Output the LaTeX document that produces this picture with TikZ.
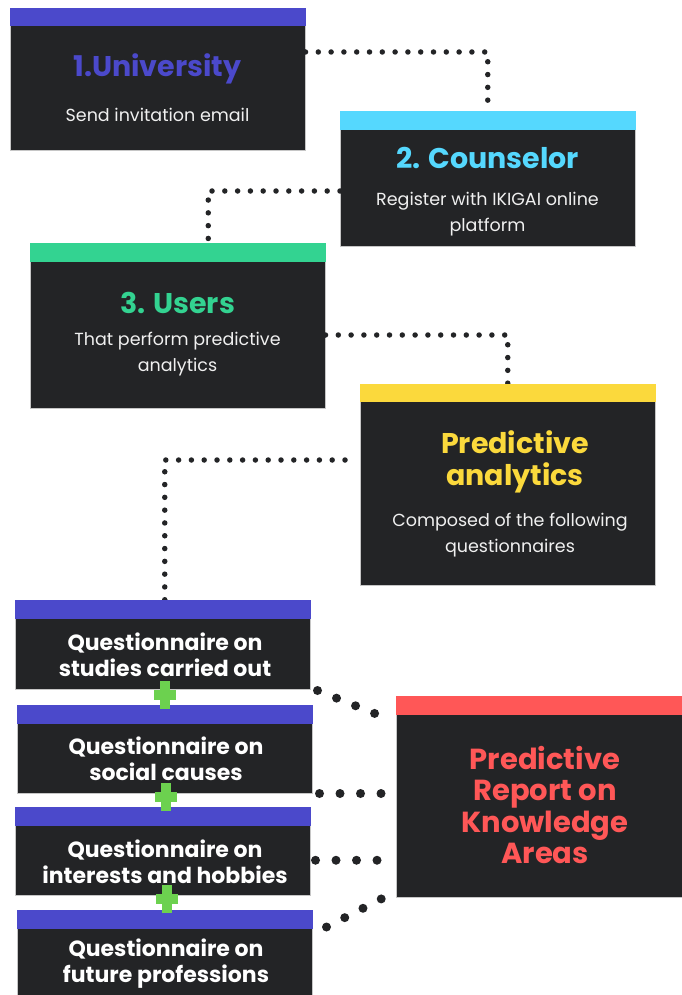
\documentclass[tikz,border=0pt]{standalone}
\usepackage{fontspec}
\setmainfont{Poppins}
\usetikzlibrary{positioning,calc}
\definecolor{cardgray}{HTML}{232426}
\definecolor{uniblue}{HTML}{4B49CB}
\definecolor{counblue}{HTML}{55D8FE}
\definecolor{usergreen}{HTML}{33D391}
\definecolor{predyellow}{HTML}{FBD93C}
\definecolor{repred}{HTML}{FF5757}
\definecolor{plusgreen}{HTML}{6CD14F}
\tikzset{
  card/.style={fill=cardgray, draw=gray!45, line width=0.5pt, anchor=north west,
    inner sep=0pt, minimum width=295pt, minimum height=#1},
  dotline/.style={draw=cardgray, line width=5.5pt, line cap=round, dash pattern=on 0pt off 12.8pt},
  bigdots/.style={draw=cardgray, line width=9pt, line cap=round, dash pattern=on 0pt off 20.5pt},
  head/.style={font=\bfseries\fontsize{28.5}{32}\selectfont, text=#1, align=center},
  sub/.style={font=\fontsize{17.5}{26}\selectfont, text=white!88!gray, align=center},
  qtext/.style={font=\bfseries\fontsize{22}{26}\selectfont, text=white, align=center},
}
\begin{document}
\begin{tikzpicture}[x=1pt,y=-1pt]
    \useasboundingbox (0,0) rectangle (682,995);

    % Cards
    \node[card=142pt] (uni) at (10,8) {};
    \node[card=135pt] (coun) at (340,111) {};
    \node[card=165pt] (users) at (30,243) {};
    \node[card=201pt] (pred) at (360,384) {};
    \node[card=89pt] (qA) at (15,600) {};
    \node[card=88pt] (qB) at (17,705) {};
    \node[card=88pt] (qC) at (15,807) {};
    \node[card=86pt] (qD) at (17,910) {};
    \node[card=201pt, minimum width=286pt] (rep) at (396,696) {};

    % Dotted links between the steps
    \draw[dotline] ([yshift=-44pt]uni.north east) -| (coun.north);
    \draw[dotline] ([yshift=-80pt]coun.north west) -| ([xshift=30.5pt]users.north);
    \draw[dotline] ([yshift=-92pt]users.north east) -| (pred.north);
    \draw[dotline] ([xshift=-15pt,yshift=-76pt]pred.north west) -| ([xshift=2pt]qA.north);

    % Dotted links to the report
    \draw[bigdots] ([xshift=7pt,yshift=-1pt]qA.south east) -- ([xshift=-15pt,yshift=-20pt]rep.north west);
    \draw[bigdots] ([xshift=7pt]qB.south east) -- (rep.west |- qB.south east);
    \draw[bigdots] ([xshift=5pt,yshift=-9pt]qC.east) -- ([yshift=-9pt]rep.west |- qC.east);
    \draw[bigdots] ([xshift=14pt,yshift=-17pt]qD.north east) -- ([xshift=-12pt]rep.south west);

    % Coloured bars on top of the cards
    \fill[uniblue] (uni.north west) rectangle ([yshift=-18pt]uni.north east);
    \fill[counblue] (coun.north west) rectangle ([yshift=-19pt]coun.north east);
    \fill[usergreen] (users.north west) rectangle ([yshift=-19pt]users.north east);
    \fill[predyellow] (pred.north west) rectangle ([yshift=-18pt]pred.north east);
    \foreach \q in {qA,qB,qC,qD}
        \fill[uniblue] (\q.north west) rectangle ([yshift=-19pt]\q.north east);
    \fill[repred] (rep.north west) rectangle ([yshift=-19pt]rep.north east);

    % Plus signs between the questionnaires
    \foreach \px/\py in {165/695,166/797,167/899} {
        \fill[plusgreen] (\px-11,\py-5) rectangle (\px+11,\py+5);
        \fill[plusgreen] (\px-5,\py-14) rectangle (\px+5,\py+14);
    }

    % Texts
    \node[head=uniblue] (uniT) at (157.5,69) {1.University};
    \node[sub] (uniS) at (157.5,115) {Send invitation email};
    \node[head=counblue] (counT) at (487.5,158) {2. Counselor};
    \node[sub] (counS) at (487.5,214) {Register with IKIGAI online\\platform};
    \node[head=usergreen] (usersT) at (177.5,303) {3. Users};
    \node[sub] (usersS) at (177.5,354.5) {That perform predictive\\analytics};
    \node[head=predyellow] (predT) at (515,462) {Predictive\\analytics};
    \node[sub] (predS) at (510,535) {Composed of the following\\questionnaires};
    \node[qtext] (qAT) at (165,655) {Questionnaire on\\studies carried out};
    \node[qtext] (qBT) at (166,759) {Questionnaire on\\social causes};
    \node[qtext] (qCT) at (165,861.5) {Questionnaire on\\interests and hobbies};
    \node[qtext] (qDT) at (166,964) {Questionnaire on\\future professions};
    \node[head=repred, font=\bfseries\fontsize{29}{31.3}\selectfont] (repT) at (545,805) {Predictive\\Report on\\Knowledge\\Areas};
\end{tikzpicture}
\end{document}
